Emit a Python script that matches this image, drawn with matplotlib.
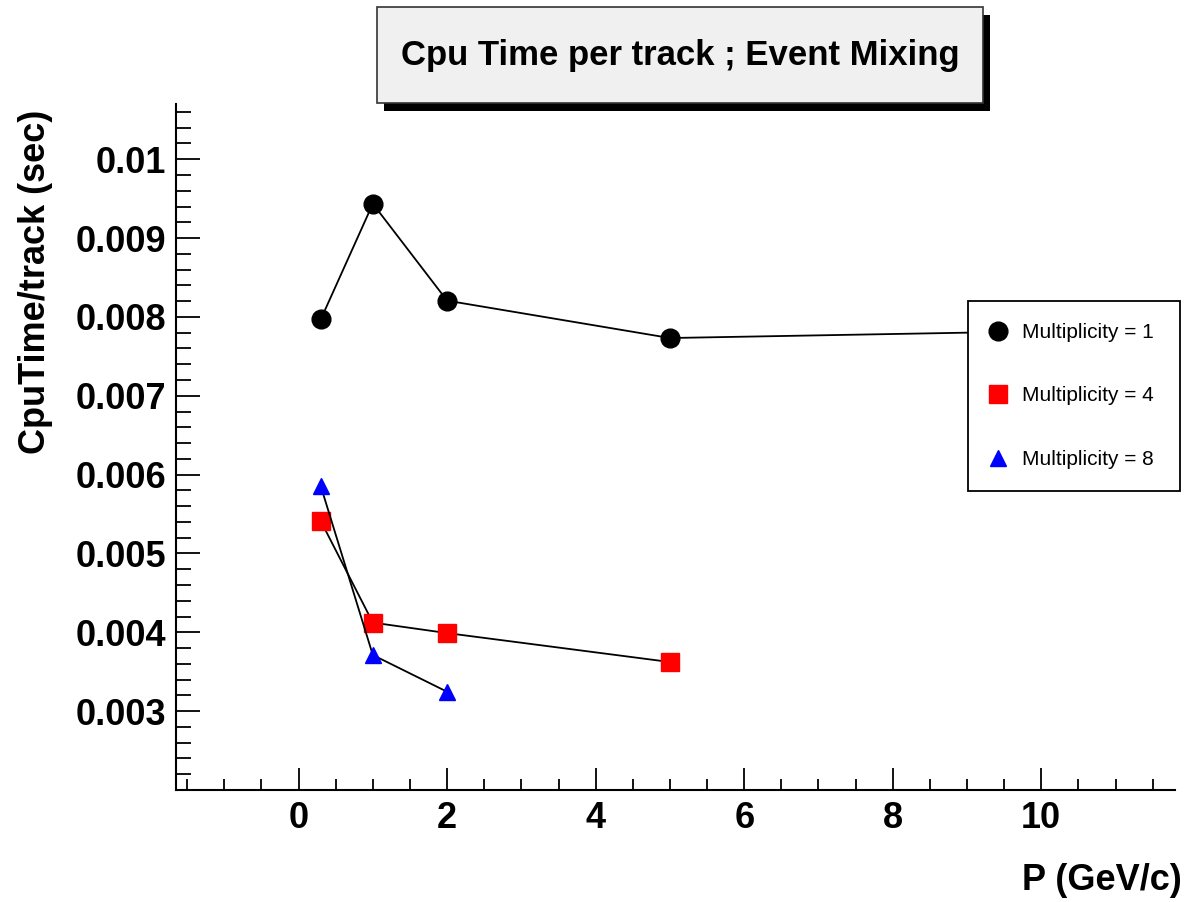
import matplotlib
matplotlib.use("Agg")
import matplotlib.pyplot as plt
from matplotlib.patches import Rectangle
from matplotlib.ticker import MultipleLocator

plt.rcParams['font.family'] = ['Liberation Sans', 'DejaVu Sans']

# --- DATA ---
p_mult1 = [0.3, 1.0, 2.0, 5.0, 10.0]
t_mult1 = [0.00797, 0.009435, 0.008206, 0.007732, 0.007817]
p_mult4 = [0.3, 1.0, 2.0, 5.0]
t_mult4 = [0.00541, 0.004123, 0.00399, 0.003623]
p_mult8 = [0.3, 1.0, 2.0]
t_mult8 = [0.005851, 0.003712, 0.003246]
labels = ["Multiplicity = 1", "Multiplicity = 4", "Multiplicity = 8"]
x_ticks = [0, 2, 4, 6, 8, 10]
y_ticks = [0.003, 0.004, 0.005, 0.006, 0.007, 0.008, 0.009, 0.01]

W, H = 1184, 902
fig = plt.figure(figsize=(W / 100, H / 100), dpi=100)
ax = fig.add_axes([176 / W, 1 - 790 / H, (1175 - 176) / W, (790 - 104) / H])

ax.plot(p_mult1, t_mult1, color='black', lw=1.3, marker='o', ms=13.5,
        mfc='black', mec='black', label=labels[0], zorder=3)
ax.plot(p_mult4, t_mult4, color='black', lw=1.3, marker='s', ms=13,
        mfc='red', mec='red', label=labels[1], zorder=3)
ax.plot(p_mult8, t_mult8, color='black', lw=1.3, marker='^', ms=11.5,
        mfc='blue', mec='blue', label=labels[2], zorder=3)

ax.set_xlim(-1.65, 11.8)
ax.set_ylim(0.002, 0.0107)
ax.set_xticks(x_ticks)
ax.set_xticklabels([str(v) for v in x_ticks])
ax.set_yticks(y_ticks)
ax.set_yticklabels(["0.003", "0.004", "0.005", "0.006", "0.007", "0.008", "0.009", "0.01"])
ax.xaxis.set_minor_locator(MultipleLocator(0.5))
ax.yaxis.set_minor_locator(MultipleLocator(0.0002))

for s in ['top', 'right']:
    ax.spines[s].set_visible(False)
for s in ['left', 'bottom']:
    ax.spines[s].set_linewidth(1.5)

ax.tick_params(axis='x', which='major', direction='in', length=16, width=1.3,
               labelsize=26, pad=8)
ax.tick_params(axis='x', which='minor', direction='in', length=8, width=1.3)
ax.tick_params(axis='y', which='major', direction='in', length=17, width=1.3,
               labelsize=26, pad=7)
ax.tick_params(axis='y', which='minor', direction='in', length=11, width=1.3)
for lab in ax.get_xticklabels() + ax.get_yticklabels():
    lab.set_fontweight('bold')

fig.text(1182 / W, 1 - 880 / H, "P (GeV/c)", ha='right', va='center',
         fontsize=26, fontweight='bold')
fig.text(36 / W, 1 - 282 / H, "CpuTime/track (sec)", ha='center', va='center',
         rotation=90, fontsize=26, fontweight='bold')

# legend box
leg = ax.legend(loc='upper left',
                bbox_to_anchor=(968 / W, 1 - 496 / H, (1180 - 968) / W, (496 - 301) / H),
                bbox_transform=fig.transFigure, mode='expand', frameon=True, fancybox=False,
                framealpha=1, facecolor='white',
                fontsize=15, handlelength=0.8, handletextpad=0.75, labelspacing=2.14,
                borderpad=1.05, borderaxespad=0, numpoints=1)
leg.get_frame().set_edgecolor('black')
leg.get_frame().set_linewidth(1.3)
leg.set_zorder(5)
for h in leg.legend_handles:
    h.set_linestyle('none')

# title box with shadow
fig.patches.append(Rectangle((384 / W, 1 - 111 / H), (990 - 384) / W, (111 - 15) / H,
                             transform=fig.transFigure, facecolor='black', edgecolor='none'))
fig.patches.append(Rectangle((377 / W, 1 - 103 / H), (983 - 377) / W, (103 - 7) / H,
                             transform=fig.transFigure, facecolor='#f0f0f0',
                             edgecolor='#333333', linewidth=1.2))
fig.text(680 / W, 1 - 55 / H, "Cpu Time per track ; Event Mixing", ha='center', va='center',
         fontsize=25, fontweight='bold')

fig.savefig("out.png", dpi=100)
